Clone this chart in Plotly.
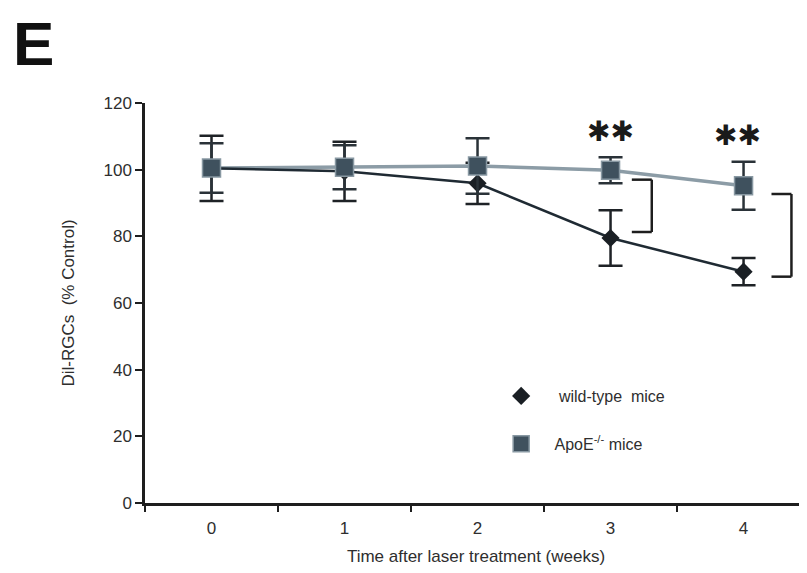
import plotly.graph_objects as go

weeks = ["0", "1", "2", "3", "4"]
wt_mean = [100.4, 99.5, 95.9, 79.5, 69.4]
wt_err = [9.8, 8.9, 6.2, 8.3, 4.1]
apoe_mean = [100.5, 100.7, 101.1, 99.8, 95.2]
apoe_err = [7.4, 6.6, 8.3, 3.9, 7.2]
y_ticks = [0, 20, 40, 60, 80, 100, 120]

FONT = "Liberation Sans, Arial, sans-serif"
TXT = "#2e2e2e"
AX = "#1e1e1e"
NB = "\u00a0"

fig = go.Figure()

# ApoE line (below)
fig.add_trace(go.Scatter(
    x=weeks, y=apoe_mean, mode="lines",
    line=dict(color="#8c9ca6", width=3.5),
    showlegend=False, hoverinfo="skip"))

# wild-type line
fig.add_trace(go.Scatter(
    x=weeks, y=wt_mean, mode="lines",
    line=dict(color="#1f2a33", width=2.5),
    showlegend=False, hoverinfo="skip"))

# wild-type markers + error bars
fig.add_trace(go.Scatter(
    x=weeks, y=wt_mean, mode="markers", name=NB * 4 + "wild-type" + NB * 2 + "mice",
    legendgroup="wt",
    marker=dict(symbol="diamond", size=14, color="#1a1f24"),
    error_y=dict(type="data", array=wt_err, color="#1e2226", thickness=2.5, width=12)))

# ApoE markers + error bars
fig.add_trace(go.Scatter(
    x=weeks, y=apoe_mean, mode="markers", name=NB * 3 + "ApoE<sup>-/-</sup> mice",
    legendgroup="apoe",
    marker=dict(symbol="square", size=18, color="#3f515e",
                line=dict(color="#8898a2", width=1.5)),
    error_y=dict(type="data", array=apoe_err, color="#2a3238", thickness=2.5, width=12)))

# significance brackets
def bracket(x0, x1, ytop, ybot):
    for (a, b, c, d) in [(x0, ytop, x1, ytop), (x1, ytop, x1, ybot), (x0, ybot, x1, ybot)]:
        fig.add_shape(type="line", xref="x", yref="y", x0=a, y0=b, x1=c, y1=d,
                      line=dict(color=AX, width=2.5))

bracket(3.16, 3.31, 97.0, 81.3)
bracket(4.21, 4.36, 92.7, 67.9)

for xc, yc, xs in [("3", 111.5, 0), ("4", 110.3, -6)]:
    fig.add_annotation(x=xc, y=yc, xref="x", yref="y", text="✱✱", showarrow=False,
                       xshift=xs, xanchor="center", yanchor="middle",
                       font=dict(family="DejaVu Sans", size=28, color="#1a1a1a"))

fig.add_annotation(x=-0.168, y=1.148, xref="paper", yref="paper", text="<b>E</b>",
                   showarrow=False, xanchor="center", yanchor="middle",
                   font=dict(family=FONT, size=62, color="#111111"))

fig.update_layout(
    width=799, height=565,
    margin=dict(l=137, r=0, t=95, b=70, autoexpand=False),
    paper_bgcolor="white", plot_bgcolor="white",
    font=dict(family=FONT, size=17, color=TXT),
    legend=dict(x=0.538, y=0.31, xanchor="left", yanchor="top",
                bgcolor="rgba(0,0,0,0)", font=dict(size=16, color=TXT),
                tracegroupgap=24, itemwidth=30),
    showlegend=True,
)

fig.update_xaxes(
    type="category", range=[-0.5, 4.477], automargin=False,
    showline=True, linecolor=AX, linewidth=2.5,
    ticks="outside", tickson="boundaries", ticklen=6, tickwidth=2, tickcolor=AX,
    ticklabelstandoff=8,
    showgrid=False, zeroline=False,
    tickfont=dict(size=17, color=TXT),
    title=dict(text="Time after laser treatment (weeks)", font=dict(size=17, color=TXT), standoff=13),
)
fig.update_yaxes(
    range=[0, 120], tickvals=y_ticks, automargin=False,
    showline=True, linecolor=AX, linewidth=2.5,
    ticks="outside", ticklen=7, tickwidth=2, tickcolor=AX,
    showgrid=False, zeroline=False,
    tickfont=dict(size=17, color=TXT),
    title=dict(text="Dil-RGCs  (% Control)", font=dict(size=17, color=TXT), standoff=25),
)

fig.write_html("out.html")
